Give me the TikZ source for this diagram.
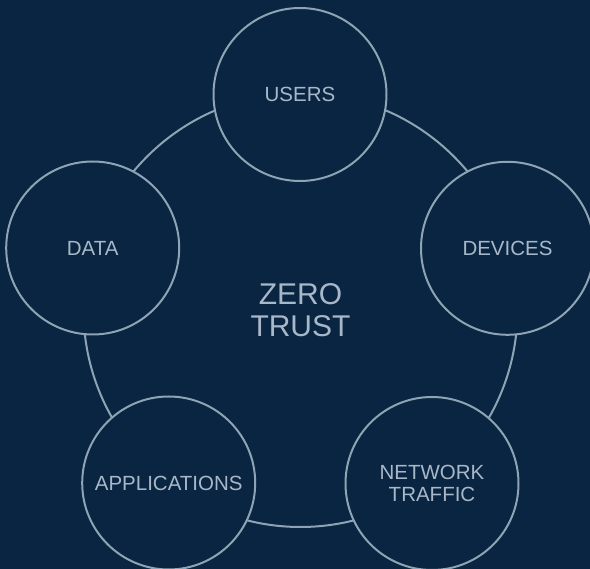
\documentclass[tikz,border=0pt]{standalone}
\usepackage{fontspec}
\setmainfont{Liberation Sans}
\definecolor{bg}{HTML}{0A2542}
\definecolor{ln}{HTML}{8EA4B4}
\definecolor{tx}{HTML}{A8B8C8}
\begin{document}
\begin{tikzpicture}[x=1pt,y=-1pt,
  core/.style={circle,draw=ln,line width=2pt,minimum size=434pt,inner sep=0pt,
    text=tx,align=center,font=\fontsize{30}{32}\selectfont},
  sat/.style={circle,draw=ln,fill=bg,line width=2pt,minimum size=173pt,inner sep=0pt,
    text=tx,align=center,font=\fontsize{20.5}{22.3}\selectfont}]
\fill[bg] (0,0) rectangle (590,569);
\useasboundingbox (0,0) rectangle (590,569);
\node[core] (zt) at (300.5,310) {ZERO\\TRUST};
\node[sat] (users) at (300,94.5) {USERS};
\node[sat] (devices) at (507.5,248.3) {DEVICES};
\node[sat] (data) at (92.7,248) {DATA};
\node[sat] (apps) at (168.7,483) {APPLICATIONS};
\node[sat] (net) at (432,483.5) {NETWORK\\TRAFFIC};
\end{tikzpicture}
\end{document}
